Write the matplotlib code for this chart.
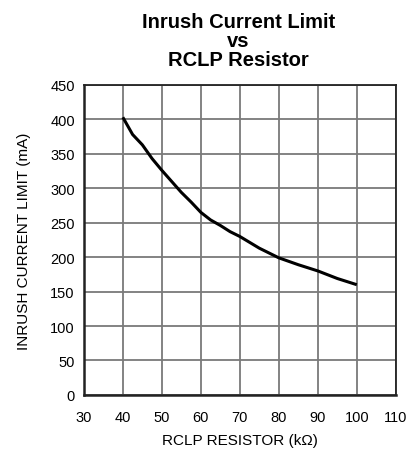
from matplotlib import pyplot as plt

# Donnees
rclp_kohm = [40, 42.5, 45, 47.5, 50, 52.5, 55, 57.5, 60, 62.5, 65, 67.5, 70, 75, 80, 85, 90, 95, 100]
inrush_ma = [403, 378, 363, 343, 326, 310, 294, 280, 265, 254, 246, 237, 230, 213, 199, 189, 180, 169, 160]

x_ticks = [30, 40, 50, 60, 70, 80, 90, 100, 110]
y_ticks = [0, 50, 100, 150, 200, 250, 300, 350, 400, 450]

plt.rcParams['font.family'] = ['Liberation Sans', 'DejaVu Sans']

fig = plt.figure(figsize=(4.11, 4.52), dpi=100)
ax = fig.add_axes([0.204, 0.124, 0.759, 0.686])

ax.plot(rclp_kohm, inrush_ma, color='black', linewidth=2.2, solid_capstyle='butt')

ax.set_xlim(30, 110)
ax.set_ylim(0, 450)
ax.set_xticks(x_ticks)
ax.set_yticks(y_ticks)
ax.grid(True, color='#7a7a7a', linewidth=1.3)
ax.set_axisbelow(True)
ax.tick_params(length=0, labelsize=10.5)
ax.tick_params(axis='x', pad=11)
ax.tick_params(axis='y', pad=6.5)

for side in ax.spines.values():
	side.set_color('#222222')
	side.set_linewidth(1.3)
ax.spines['left'].set_linewidth(1.8)
ax.spines['bottom'].set_linewidth(1.8)

ax.set_xlabel(u'RCLP RESISTOR (k\u03a9)', fontsize=11, labelpad=6)
ax.set_ylabel('INRUSH CURRENT LIMIT (mA)', fontsize=11, labelpad=14)

fig.text(0.58, 0.972, 'Inrush Current Limit\nvs\nRCLP Resistor', ha='center', va='top',
	fontsize=14.5, fontweight='bold', linespacing=1.0)

fig.savefig('out.png', dpi=100)
